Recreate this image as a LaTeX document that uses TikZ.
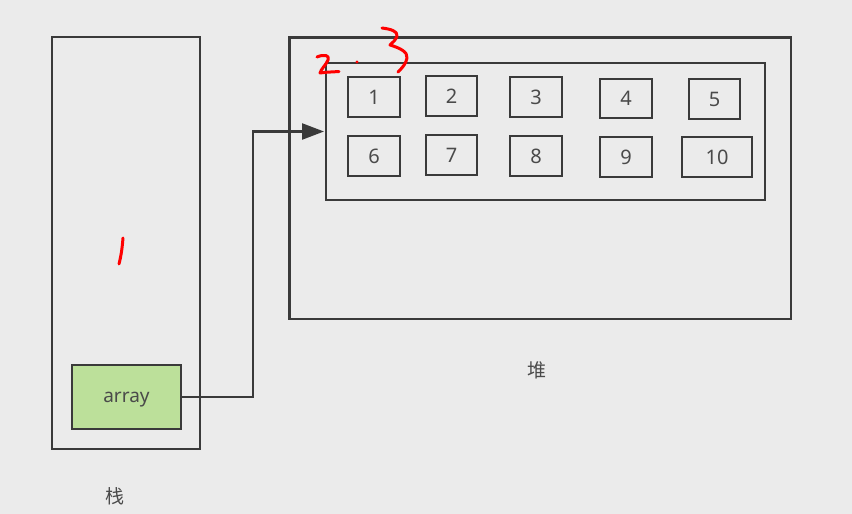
\documentclass[tikz,border=0pt]{standalone}
\usepackage{fontspec}
\setmainfont{Noto Sans}
\newfontfamily\cjk{Noto Sans CJK SC}
\usetikzlibrary{arrows.meta}
\definecolor{bg}{HTML}{EBEBEB}
\definecolor{edge}{HTML}{3A3A3A}
\definecolor{txt}{HTML}{4A4A4A}
\definecolor{green}{HTML}{BCE09A}
\tikzset{
  frame/.style={draw=edge, line width=2.8pt},
  cell/.style={draw=edge, line width=2.8pt, text=txt, font=\fontsize{20}{24}\selectfont, inner sep=0pt},
  lbl/.style={text=txt, font=\cjk\fontsize{19}{22}\selectfont, inner sep=0pt},
  ink/.style={draw=red, line width=3pt, line cap=round, line join=round},
  conn/.style={draw=edge, line width=2.4pt, -{Triangle[length=22pt,width=16pt]}}
}
\begin{document}
\begin{tikzpicture}[x=1pt,y=-1pt]
\fill[bg] (0,0) rectangle (852,514);
\useasboundingbox (0,0) rectangle (852,514);
% stack
\draw[frame] (52,37) rectangle (200,449);
% heap
\draw[frame] (289.5,37.5) rectangle (791,319);
\draw[frame] (326,63) rectangle (765,200);
% cells
\node[cell, minimum width=52pt, minimum height=40pt] (c1) at (374,97) {1};
\node[cell, minimum width=51pt, minimum height=40pt] (c2) at (451.5,96) {2};
\node[cell, minimum width=52pt, minimum height=40pt] (c3) at (536,97) {3};
\node[cell, minimum width=52pt, minimum height=39pt] (c4) at (626,98.5) {4};
\node[cell, minimum width=51pt, minimum height=40pt] (c5) at (714.5,99) {5};
\node[cell, minimum width=52pt, minimum height=40pt] (c6) at (374,156) {6};
\node[cell, minimum width=51pt, minimum height=40pt] (c7) at (451.5,155) {7};
\node[cell, minimum width=52pt, minimum height=40pt] (c8) at (536,156) {8};
\node[cell, minimum width=52pt, minimum height=40pt] (c9) at (626,157) {9};
\node[cell, minimum width=70pt, minimum height=40pt] (c10) at (717,157) {10};
% array
\node[cell, fill=green, minimum width=109pt, minimum height=64pt, text height=10pt, text depth=0pt, font=\fontsize{19}{22}\selectfont] (arr) at (126.5,397) {array};
\coordinate (bend1) at (253,397);
\coordinate (bend2) at (253,131.5);
\coordinate (tip) at (324,131.5);
\draw[conn] (arr.east) -- (bend1) -- (bend2) -- (tip);
% labels
\node[lbl] (stk) at (115,496) {栈};
\node[lbl] (heap) at (537,370) {堆};
% handwriting
\draw[ink] (123,238) .. controls (122,250) and (121,256) .. (119,264);
\draw[ink] (317,57) .. controls (324,54) and (330,55) .. (328,60) .. controls (326,65) and (321,69) .. (320,73) .. controls (326,72) and (333,72) .. (339,71.5);
\fill[red] (357,62) circle (1.7pt);
\draw[ink] (382,28) .. controls (390,29) and (398,31) .. (397,36) .. controls (396,40) and (392,43) .. (390,45) .. controls (400,48) and (408,52) .. (407,58) .. controls (406,64) and (402,68) .. (398,72);
\end{tikzpicture}
\end{document}
